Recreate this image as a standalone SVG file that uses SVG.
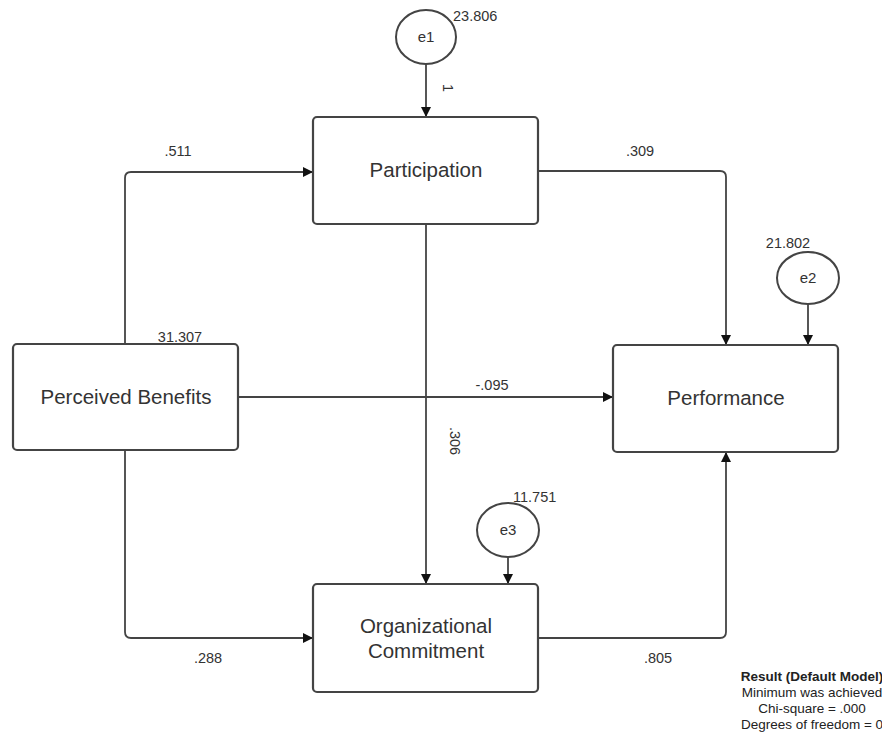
<svg xmlns="http://www.w3.org/2000/svg" width="882" height="738" viewBox="0 0 882 738">
<defs>
<marker id="ah" viewBox="0 0 10 10" refX="10" refY="5" markerWidth="10" markerHeight="10" markerUnits="userSpaceOnUse" orient="auto">
<path d="M0,0 L10,5 L0,10 z" fill="#111"/>
</marker>
<style>
.box{fill:#fff;stroke:#444;stroke-width:2.2}
.lat{fill:#fff;stroke:#444;stroke-width:2}
.con{fill:none;stroke:#444;stroke-width:1.8;marker-end:url(#ah)}
.bt{font-family:"Liberation Sans",Arial,sans-serif;font-size:20.5px;fill:#333;text-anchor:middle}
.lt{font-family:"Liberation Sans",Arial,sans-serif;font-size:14.5px;fill:#333}
.et{font-family:"Liberation Sans",Arial,sans-serif;font-size:15px;fill:#333;text-anchor:middle}
.rt{font-family:"Liberation Sans",Arial,sans-serif;font-size:13.5px;fill:#222;text-anchor:middle}
</style>
</defs>
<rect width="882" height="738" fill="#fff"/>
<g id="connectors">
<path class="con" d="M426 64 V117"/>
<path class="con" d="M125 344 V178 Q125 172 131 172 H313"/>
<path class="con" d="M538 171 H720 Q726 171 726 177 V345"/>
<path class="con" d="M426 224 V584"/>
<path class="con" d="M238 397 H613"/>
<path class="con" d="M125 450 V632 Q125 638 131 638 H313"/>
<path class="con" d="M538 638 H720 Q726 638 726 632 V452"/>
<path class="con" d="M808 304 V345"/>
<path class="con" d="M508 557 V584"/>
</g>
<g id="labels">
<text class="lt" x="178" y="156" text-anchor="middle">.511</text>
<text class="lt" x="640" y="156" text-anchor="middle">.309</text>
<text class="lt" x="180" y="342" text-anchor="middle">31.307</text>
<text class="lt" x="492" y="390" text-anchor="middle">-.095</text>
<text class="lt" transform="translate(450,441) rotate(90)" text-anchor="middle">.306</text>
<text class="lt" transform="translate(443,88) rotate(90)" text-anchor="middle">1</text>
<text class="lt" x="453" y="21">23.806</text>
<text class="lt" x="788" y="248" text-anchor="middle">21.802</text>
<text class="lt" x="513" y="502">11.751</text>
<text class="lt" x="208" y="663" text-anchor="middle">.288</text>
<text class="lt" x="658" y="663" text-anchor="middle">.805</text>
</g>
<g id="participation">
<rect class="box" x="313" y="117" width="225" height="107" rx="4"/>
<text class="bt" x="426" y="177">Participation</text>
</g>
<g id="perceived-benefits">
<rect class="box" x="13" y="344" width="225" height="106" rx="4"/>
<text class="bt" x="126" y="404">Perceived Benefits</text>
</g>
<g id="performance">
<rect class="box" x="613" y="345" width="225" height="107" rx="4"/>
<text class="bt" x="726" y="405">Performance</text>
</g>
<g id="organizational-commitment">
<rect class="box" x="313" y="584" width="225" height="108" rx="4"/>
<text class="bt" x="426" y="633">Organizational</text>
<text class="bt" x="426" y="658">Commitment</text>
</g>
<g id="e1">
<ellipse class="lat" cx="426" cy="37" rx="30" ry="27"/>
<text class="et" x="426" y="42">e1</text>
</g>
<g id="e2">
<ellipse class="lat" cx="808" cy="278" rx="31" ry="26"/>
<text class="et" x="808" y="283">e2</text>
</g>
<g id="e3">
<ellipse class="lat" cx="508" cy="530" rx="31" ry="27"/>
<text class="et" x="508" y="535">e3</text>
</g>
<g id="result">
<text class="rt" x="812" y="681" font-weight="bold">Result (Default Model)</text>
<text class="rt" x="812" y="697">Minimum was achieved</text>
<text class="rt" x="812" y="713">Chi-square = .000</text>
<text class="rt" x="812" y="729">Degrees of freedom = 0</text>
</g>
</svg>
